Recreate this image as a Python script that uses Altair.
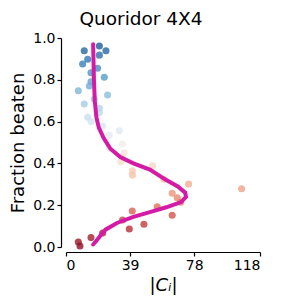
import altair as alt
import pandas as pd

# scatter points: size |C_i| (x) vs fraction beaten (y)
pt_x = [11.1, 20.3, 24.3, 20.3, 13.2, 10.1, 19.2, 15.2, 23.3, 15.2, 14.2, 7.5,
        25.3, 17.2, 11.1, 20.3, 20.3, 13.2, 15.2, 22.3, 32.4, 26.3, 24.7, 34.4,
        26.3, 35.4, 34.2, 33.4, 52.6, 40.4, 40.4, 59.6, 74.6, 106.8, 64.6, 67.7,
        69.7, 55.5, 40.3, 64.6, 34.4, 47.4, 38.5, 22.3, 15.2, 7.5, 8.5]
pt_y = [0.939, 0.962, 0.939, 0.918, 0.898, 0.876, 0.855, 0.834, 0.812, 0.791, 0.770, 0.748,
        0.727, 0.707, 0.684, 0.664, 0.643, 0.621, 0.600, 0.579, 0.556, 0.536, 0.512, 0.493,
        0.472, 0.451, 0.432, 0.408, 0.388, 0.365, 0.344, 0.324, 0.301, 0.279, 0.257, 0.236,
        0.214, 0.193, 0.172, 0.152, 0.129, 0.109, 0.086, 0.067, 0.045, 0.024, 0.005]

# fitted curve
fit_x = [16.5, 16.7, 17.0, 17.5, 18.5, 20.0, 23.0, 27.0, 33.0, 41.0, 51.0, 61.0,
         68.0, 72.5, 73.0, 70.0, 61.0, 51.0, 41.0, 31.0, 24.0, 20.5, 18.5, 16.5]
fit_y = [0.97, 0.90, 0.80, 0.70, 0.62, 0.57, 0.52, 0.47, 0.43, 0.40, 0.37, 0.32,
         0.29, 0.26, 0.24, 0.215, 0.19, 0.167, 0.144, 0.115, 0.083, 0.05, 0.03, 0.012]

x_ticks = [0, 39, 78, 118]
y_ticks = [0.0, 0.2, 0.4, 0.6, 0.8, 1.0]

pts = pd.DataFrame({"x": pt_x, "y": pt_y})
fit = pd.DataFrame({"x": fit_x, "y": fit_y, "i": list(range(len(fit_x)))})

xs = alt.Scale(domain=[0, 118], nice=False, zero=False)
ys = alt.Scale(domain=[0, 1], nice=False, zero=False)

common = dict(grid=False, offset=5, domainColor="black", tickColor="black",
              labelColor="black", titleColor="black", labelFontSize=14, titleFontSize=18,
              titleFontWeight="normal", labelFont="DejaVu Sans", titleFont="DejaVu Sans",
              tickSize=4, domainWidth=1.2, tickWidth=1.2)
xax = alt.Axis(values=x_ticks, title="|Cᵢ|", titleFontStyle="italic", labelPadding=2,
               titlePadding=4, **common)
yax = alt.Axis(values=y_ticks, format=".1f", title="Fraction beaten", labelPadding=2,
               titlePadding=5, **common)

scatter = alt.Chart(pts).mark_circle(size=50, opacity=0.8).encode(
    x=alt.X("x:Q", scale=xs, axis=xax),
    y=alt.Y("y:Q", scale=ys, axis=yax),
    color=alt.Color("y:Q", scale=alt.Scale(scheme="redblue", domain=[0, 1]), legend=None),
)

line = alt.Chart(fit).mark_line(color="#d41ba6", strokeWidth=4, strokeCap="round").encode(
    x=alt.X("x:Q", scale=xs),
    y=alt.Y("y:Q", scale=ys),
    order="i:Q",
)

chart = alt.layer(scatter, line).properties(
    width=194, height=209,
    autosize=alt.AutoSizeParams(type="none"),
    padding={"left": 58, "top": 30, "right": 12, "bottom": 50},
    title=alt.Title("Quoridor 4X4", fontSize=18.5, font="DejaVu Sans", fontWeight="normal",
                    color="black", offset=3, anchor="middle", dx=-22),
).configure_view(stroke=None)

chart.save("out.html", embed_options={"renderer": "svg", "actions": False})
